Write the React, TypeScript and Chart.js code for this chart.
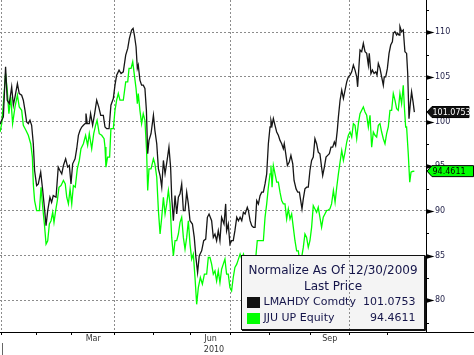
import React, { useEffect, useRef } from "react";
import { Chart, registerables } from "chart.js";

Chart.register(...registerables);

// x = trading-session index (0 = first session of Jan 2010)
const lmahdySessions = [
  -0.9, 0.0, 0.9, 2.1, 3.0, 4.1, 5.4, 6.3, 7.2, 8.5,
  9.5, 10.8, 11.7, 12.6, 13.5, 14.4, 15.3, 16.2, 17.1, 17.8,
  18.9, 19.8, 21.1, 22.2, 23.1, 24.0, 24.9, 26.1, 27.0, 27.9,
  29.4, 30.6, 31.5, 32.5, 33.4, 34.6, 35.7, 36.6, 37.5, 38.4,
  39.7, 40.6, 41.5, 42.4, 43.3, 44.2, 45.1, 45.6, 46.3, 47.4,
  48.1, 49.2, 50.3, 51.4, 52.5, 53.6, 55.0,
  55.9, 56.8, 58.1, 59.1, 60.4, 61.3, 62.2, 63.5, 64.6, 65.8,
  67.1, 68.2, 69.1, 70.3, 71.1, 71.8, 72.7, 73.4, 73.9, 74.8,
  75.7, 76.6, 77.5, 78.3, 79.0, 79.7, 80.8, 82.1, 82.9, 83.9,
  84.8, 85.7, 86.6, 87.5, 88.4, 89.5, 90.5, 91.4, 92.0, 92.9,
  93.8, 94.7, 95.6, 96.5, 97.4, 98.3, 99.2, 100.1, 101.0, 101.9,
  103.2, 104.2, 105.1, 106.0, 106.9, 108.2, 109.3, 110.4, 111.3, 112.2,
  113.6, 114.5, 115.4, 116.3, 117.2, 118.1, 119.0, 120.3, 121.2, 121.7,
  122.6, 123.5, 124.4, 125.3, 126.2, 127.2, 128.1, 129.0, 129.9, 130.8,
  131.7, 132.9, 133.5, 134.4, 135.3, 136.2, 137.1, 138.0, 138.9, 139.8,
  140.7, 141.6, 142.5, 143.4, 144.3, 145.2, 145.7, 146.3, 147.0, 147.9,
  148.8, 149.7, 150.6, 151.5, 152.4, 152.9, 153.7, 154.6, 155.6, 156.5,
  157.5, 158.2, 159.3, 160.2, 161.1, 161.8, 162.5, 163.2, 164.1, 165.0,
  165.9, 166.8, 167.7, 168.6,
  169.5, 170.4, 171.3, 172.2, 173.1, 173.7, 174.6, 175.5, 176.4, 177.3,
  178.2, 179.1, 180.0, 180.7, 181.6, 182.2, 183.1, 184.0, 184.9, 185.8,
  186.7, 187.6, 188.5, 189.4, 190.3, 191.2, 192.1, 192.6, 193.3, 193.9,
  194.8, 195.7, 196.6, 197.5, 198.4, 198.9, 199.8, 200.6, 201.5, 202.4,
  203.1, 203.8, 204.7, 205.6, 206.5, 207.0, 207.8, 208.7, 209.6, 210.5,
  211.4, 211.9, 212.8, 213.7, 214.3, 215.0, 215.5, 216.4, 217.3, 218.2,
  219.1, 219.7, 220.4, 221.1, 221.8, 222.6, 223.3,
];
const lmahdyValues = [
  99.7, 100.15, 100.53, 106.14, 102.4, 102.02, 103.9, 101.84, 102.77, 104.27,
  103.15, 102.96, 102.4, 101.27, 99.96, 99.78, 100.15, 99.59, 97.53, 94.53,
  92.85, 93.03, 94.35, 92.29, 90.41, 88.35, 90.04, 91.54, 90.97, 91.72,
  91.54, 94.91, 94.53, 94.16, 95.09, 95.84, 94.91, 95.09, 93.03, 95.28,
  95.84, 96.97, 98.47, 99.03, 99.4, 99.59, 99.78, 100.9, 99.78, 99.78,
  100.9, 99.59, 100.9, 102.4, 101.65, 100.71, 100.71,
  99.4, 99.21, 99.21, 101.84, 102.59, 104.08, 105.21, 105.77, 105.39, 105.58,
  107.45, 108.2, 109.33, 110.26, 110.45, 109.7, 108.39, 105.96, 106.33, 104.65,
  104.08, 104.08, 103.71, 101.27, 96.41, 97.9, 98.65, 100.71, 99.03, 97.53,
  94.72, 93.97, 92.66, 95.66, 94.16, 95.66, 97.15, 94.91, 91.54, 88.91,
  91.72, 89.66, 91.54, 91.91, 93.03, 90.04, 90.04, 92.1, 90.79, 88.91,
  88.54, 87.04, 84.79, 83.11, 84.98, 85.54, 86.67, 86.85, 89.29, 89.66,
  88.91, 87.04, 87.42, 86.67, 87.79, 86.67, 89.29, 88.54, 90.79, 87.79,
  88.54, 86.29, 86.67, 86.67, 87.79, 89.29, 88.91, 89.29, 88.91, 89.85,
  89.66, 90.41, 90.04, 88.91, 88.35, 88.17, 88.17, 91.16, 90.79, 91.72,
  92.1, 92.1, 93.03, 94.16, 97.53, 99.4, 100.15, 99.59, 100.34, 99.59,
  98.84, 98.47, 97.9, 97.53, 96.97, 97.53, 96.41, 95.09, 95.47, 96.22,
  95.28, 93.41, 92.47, 92.1, 92.1, 91.16, 90.23, 91.35, 92.47, 92.66,
  92.66, 94.53, 95.66, 96.03,
  98.09, 97.53, 96.59, 96.41, 94.91, 93.97, 94.91, 96.03, 96.22, 96.41,
  97.15, 97.15, 97.72, 97.34, 99.03, 100.53, 102.4, 103.52, 102.59, 103.52,
  104.46, 105.02, 105.21, 105.58, 106.33, 105.77, 105.02, 103.9, 106.14, 108.02,
  107.83, 108.76, 107.83, 107.64, 106.33, 107.64, 105.39, 105.77, 105.39, 105.58,
  105.21, 106.52, 105.96, 105.02, 104.08, 105.02, 105.02, 105.96, 107.64, 108.58,
  108.95, 109.89, 110.08, 109.7, 109.89, 109.7, 110.64, 110.08, 110.26, 107.83,
  107.64, 105.39, 100.34, 102.02, 103.33, 102.21, 101.0753,
];

const jjuSessions = [
  -0.9, 0.0, 0.9, 2.1, 3.0, 3.9, 4.9, 5.9, 7.2, 8.5,
  9.5, 10.8, 11.7, 13.1, 14.4, 15.7, 16.6, 17.1, 17.8, 18.9,
  20.4, 21.3, 22.2, 23.1, 24.0, 24.9, 25.8, 26.7, 27.6, 28.3,
  29.2, 30.1, 31.0, 32.1, 33.4, 34.4, 35.2, 36.1, 37.0, 37.9,
  38.8, 39.8, 40.9, 42.0, 42.9, 44.2, 45.4, 46.5, 47.4, 48.7,
  49.8, 50.8, 51.6, 52.8, 54.1, 55.4,
  55.9, 56.4, 57.3, 58.4, 59.1, 60.4, 61.3, 62.2, 63.1, 64.0,
  65.8, 67.1, 68.2, 68.9, 70.0, 70.9, 71.8, 72.7, 73.4, 73.9,
  74.8, 75.7, 76.6, 77.5, 78.4, 79.0, 79.7, 80.8, 82.1, 82.9,
  83.9, 84.8, 85.7, 86.6, 87.5, 88.4, 89.3, 90.2, 91.1, 92.0,
  92.9, 93.8, 94.7, 95.6, 96.5, 97.4, 98.3, 99.2, 100.1, 101.0,
  101.9, 102.8, 103.7, 104.6, 105.5, 106.4, 107.5, 108.6, 109.7, 110.9,
  111.8,
  112.7, 113.6, 114.5, 115.4, 116.3, 117.2, 118.1, 119.0, 119.9, 120.8,
  121.7, 122.6, 123.5, 124.4, 125.3, 126.2, 127.2, 128.1, 129.0, 129.9,
  130.8, 131.7, 132.6, 133.5, 134.4, 135.3, 136.2, 137.4, 138.3, 139.8,
  141.6, 142.5, 143.4, 144.3, 145.2, 145.7, 146.3, 147.0, 147.9, 148.8,
  149.7, 150.6, 151.5, 152.4, 153.3, 154.2, 155.1, 156.0, 156.9, 157.8,
  158.7, 159.6, 160.5, 161.4, 162.3, 163.2, 164.1, 165.0, 165.9, 166.8,
  167.7, 168.6,
  169.5, 170.4, 171.3, 172.2, 173.1, 174.0, 174.9, 175.8, 176.7, 177.6,
  178.5, 179.5, 180.4, 181.3, 182.2, 183.1, 184.0, 184.9, 185.8, 186.7,
  187.6, 188.5, 189.4, 190.3, 191.2, 192.1, 193.0, 193.9, 194.8, 195.7,
  196.6, 197.5, 198.4, 199.3, 200.2, 201.1, 202.0, 202.9, 203.8, 204.7,
  205.6, 206.5, 207.4, 208.3, 209.2, 210.1, 211.0, 211.9, 212.8, 213.7,
  214.6, 215.5, 216.4, 217.3, 217.9, 218.6, 219.1, 220.0, 220.8, 221.5,
  222.2, 223.3,
];
const jjuValues = [
  98.84, 99.78, 102.02, 105.39, 103.52, 100.9, 102.77, 99.78, 101.65, 102.96,
  101.65, 101.27, 99.59, 99.03, 98.47, 97.53, 96.03, 93.03, 91.16, 90.04,
  90.04, 92.66, 90.41, 88.54, 86.29, 86.67, 88.54, 88.91, 89.85, 88.73,
  90.04, 91.16, 92.66, 92.85, 93.41, 93.03, 91.54, 90.79, 92.47, 90.79,
  92.85, 92.66, 94.72, 95.66, 96.97, 97.53, 98.47, 97.34, 98.65, 96.97,
  98.65, 99.59, 100.15, 98.65, 98.47, 98.09,
  97.15, 94.91, 96.03, 96.03, 99.21, 99.21, 101.27, 102.4, 103.15, 102.4,
  102.4, 104.46, 104.46, 105.96, 105.96, 106.7, 105.21, 103.71, 102.02, 103.15,
  101.27, 99.78, 100.9, 100.15, 96.78, 92.29, 94.72, 94.72, 95.84, 95.28,
  93.78, 90.04, 87.42, 89.29, 91.54, 89.66, 90.79, 92.29, 90.79, 87.04,
  84.98, 86.67, 86.67, 87.42, 88.73, 89.29, 87.04, 85.73, 87.04, 88.91,
  86.29, 84.61, 85.17, 82.55, 79.55, 81.42, 82.55, 81.8, 82.92, 82.92,
  84.79,
  84.79, 84.05, 82.92, 83.3, 82.17, 83.3, 81.99, 83.48, 84.05, 84.61,
  82.92, 82.92, 81.42, 81.05, 82.55, 83.67, 84.05, 84.61, 85.17, 84.61,
  85.17, 84.61, 84.79, 84.05, 84.79, 84.42, 84.23, 84.61, 86.67, 86.67,
  86.67, 89.29, 90.79, 92.66, 94.16, 95.09, 92.66, 95.09, 94.16, 93.22,
  93.22, 92.1, 91.16, 90.79, 90.79, 89.1, 90.23, 89.1, 89.66, 88.17,
  86.67, 85.54, 85.54, 84.23, 84.79, 85.92, 87.42, 87.04, 85.92, 86.67,
  88.17, 90.6,
  90.23, 89.85, 90.41, 89.29, 88.17, 89.29, 89.66, 90.04, 90.11, 90.23,
  90.79, 92.29, 90.97, 92.66, 94.16, 95.47, 96.78, 95.66, 96.59, 97.72,
  98.47, 98.84, 98.28, 99.78, 99.59, 98.09, 99.78, 100.9, 101.27, 101.65,
  101.09, 100.71, 99.4, 100.71, 97.15, 98.84, 98.47, 98.28, 99.59, 99.78,
  98.84, 98.09, 97.53, 98.65, 99.4, 101.27, 101.27, 103.15, 102.4, 101.46,
  101.27, 103.15, 102.02, 104.08, 101.65, 99.4, 99.4, 96.41, 93.22, 94.35,
  94.42, 94.4611,
];

const seriesNames = ["LMAHDY Comdty", "JJU UP Equity"];
const lastValues = [101.0753, 94.4611];
const legendTitle = "Normalize As Of 12/30/2009";
const legendSubtitle = "Last Price";
const monthNames = ["Jan", "Feb", "Mar", "Apr", "May", "Jun", "Jul", "Aug", "Sep", "Oct", "Nov"];
const monthStartSessions = [0, 19, 38, 61, 82, 102, 124, 145, 167, 188, 209];
const quarterStartSessions = [0, 61, 124, 188];
const yearLabel = "2010";

const FONT = "'DejaVu Sans', Verdana, sans-serif";
const GRID = "#8c8c8c";
const isMajor = (v: number) => Math.abs(v / 5 - Math.round(v / 5)) < 1e-6;

const decor = {
  id: "decor",
  afterDraw(chart: any) {
    const { ctx, chartArea: ca, scales } = chart;
    const x = scales.x;
    const y = scales.y;
    ctx.save();

    // full-width bottom axis line
    ctx.strokeStyle = "#000";
    ctx.lineWidth = 1;
    ctx.setLineDash([]);
    ctx.beginPath();
    ctx.moveTo(0, Math.round(ca.bottom) + 0.5);
    ctx.lineTo(chart.width, Math.round(ca.bottom) + 0.5);
    ctx.stroke();

    // y-axis arrow ticks
    ctx.fillStyle = "#000";
    y.ticks.forEach((t: any) => {
      const py = Math.round(y.getPixelForValue(t.value)) + 0.5;
      if (isMajor(t.value)) {
        ctx.beginPath();
        ctx.moveTo(ca.right, py - 2.5);
        ctx.lineTo(ca.right + 8.5, py);
        ctx.lineTo(ca.right, py + 2.5);
        ctx.closePath();
        ctx.fill();
      } else {
        ctx.beginPath();
        ctx.moveTo(ca.right, py);
        ctx.lineTo(ca.right + 3, py);
        ctx.stroke();
      }
    });

    // month labels (every quarter's middle month)
    ctx.font = `8px ${FONT}`;
    ctx.fillStyle = "#333";
    ctx.textAlign = "center";
    ctx.textBaseline = "middle";
    monthNames.forEach((m, i) => {
      if (i % 3 === 2 && i + 1 < monthStartSessions.length) {
        const cx = x.getPixelForValue((monthStartSessions[i] + monthStartSessions[i + 1]) / 2);
        ctx.fillText(m, cx, ca.bottom + 6.5);
      }
    });
    ctx.fillText(yearLabel, (ca.left + ca.right) / 2 + 1, ca.bottom + 17.5);

    // year separator
    const jx = Math.round(x.getPixelForValue(monthStartSessions[0])) + 0.5;
    ctx.strokeStyle = "#666";
    ctx.beginPath();
    ctx.moveTo(jx, ca.bottom + 11);
    ctx.lineTo(jx, chart.height);
    ctx.stroke();

    // last value tags
    const tag = (value: number, text: string, bg: string, fg: string, right: number) => {
      const py = y.getPixelForValue(value);
      const h = 11;
      const tip = ca.right + 1;
      const body = tip + 5;
      ctx.beginPath();
      ctx.moveTo(tip, py);
      ctx.lineTo(body, py - h / 2);
      ctx.lineTo(right, py - h / 2);
      ctx.lineTo(right, py + h / 2);
      ctx.lineTo(body, py + h / 2);
      ctx.closePath();
      ctx.fillStyle = bg;
      ctx.fill();
      ctx.strokeStyle = "#000";
      ctx.lineWidth = 1;
      ctx.stroke();
      ctx.fillStyle = fg;
      ctx.font = `8px ${FONT}`;
      ctx.textAlign = "left";
      ctx.textBaseline = "middle";
      ctx.fillText(text, body + 0.5, py + 0.5);
    };
    tag(lastValues[0], lastValues[0].toFixed(4), "#111", "#fff", ca.right + 43);
    tag(lastValues[1], lastValues[1].toFixed(4), "#00ff00", "#000", chart.width - 0.5);

    // legend box
    const bw = 184;
    const bh = 75;
    const bl = Math.round(ca.right) - bw - 1;
    const bt = Math.round(ca.bottom) - bh - 2;
    ctx.fillStyle = "#f4f4f4";
    ctx.fillRect(bl, bt, bw, bh);
    ctx.strokeStyle = "#111";
    ctx.lineWidth = 1;
    ctx.strokeRect(bl + 0.5, bt + 0.5, bw - 1, bh - 1);
    ctx.beginPath();
    ctx.moveTo(bl + bw + 0.5, bt + 1);
    ctx.lineTo(bl + bw + 0.5, bt + bh + 0.5);
    ctx.lineTo(bl + 1, bt + bh + 0.5);
    ctx.stroke();

    // vertical gridline showing through legend
    const gx = Math.round(x.getPixelForValue(quarterStartSessions[3])) + 0.5;
    ctx.strokeStyle = GRID;
    ctx.setLineDash([2, 2]);
    ctx.beginPath();
    ctx.moveTo(gx, bt + 1);
    ctx.lineTo(gx, bt + bh - 1);
    ctx.stroke();
    ctx.setLineDash([]);

    ctx.fillStyle = "#15154a";
    ctx.font = `12px ${FONT}`;
    ctx.textAlign = "center";
    ctx.textBaseline = "middle";
    ctx.fillText(legendTitle, bl + bw / 2, bt + 16);
    ctx.fillText(legendSubtitle, bl + bw / 2, bt + 31.5);
    const colors = ["#111", "#00ff00"];
    ctx.font = `11px ${FONT}`;
    seriesNames.forEach((name, i) => {
      const ry = bt + 47.5 + i * 16;
      ctx.fillStyle = colors[i];
      ctx.fillRect(bl + 6, ry - 5.5, 13, 11);
      ctx.fillStyle = "#15154a";
      ctx.textAlign = "left";
      ctx.fillText(name, bl + 22.5, ry);
      ctx.textAlign = "right";
      ctx.fillText(lastValues[i].toFixed(4), bl + bw - 9.5, ry);
    });

    ctx.restore();
  },
};

export default function App() {
  const ref = useRef<HTMLCanvasElement | null>(null);
  useEffect(() => {
    if (!ref.current) return;
    const chart = new Chart(ref.current, {
      type: "line",
      data: {
        datasets: [
          {
            label: seriesNames[0],
            data: lmahdySessions.map((s, i) => ({ x: s, y: lmahdyValues[i] })),
            borderColor: "#161616",
            borderWidth: 1.3,
            pointRadius: 0,
            tension: 0,
          },
          {
            label: seriesNames[1],
            data: jjuSessions.map((s, i) => ({ x: s, y: jjuValues[i] })),
            borderColor: "#00ff00",
            borderWidth: 1.3,
            pointRadius: 0,
            tension: 0,
          },
        ],
      },
      options: {
        animation: false,
        responsive: false,
        devicePixelRatio: 1,
        layout: { padding: 0 },
        plugins: {
          legend: { display: false },
          tooltip: { enabled: false },
          title: { display: false },
        },
        scales: {
          x: {
            type: "linear",
            position: "bottom",
            min: -0.92,
            max: 229.6,
            afterBuildTicks: (s: any) => {
              s.ticks = monthStartSessions.map((v) => ({ value: v }));
            },
            afterFit: (s: any) => {
              s.height = 23;
              s.paddingLeft = 0;
              s.paddingRight = 0;
            },
            ticks: { display: false },
            grid: {
              color: (c: any) =>
                c.tick && quarterStartSessions.includes(c.tick.value) ? GRID : "rgba(0,0,0,0)",
              lineWidth: 1,
              drawTicks: true,
              tickLength: 3,
              tickColor: "#000",
              tickWidth: 1,
            },
            border: { display: false, dash: [2, 2] },
          },
          y: {
            type: "linear",
            position: "right",
            min: 76.45,
            max: 113.62,
            afterFit: (s: any) => {
              s.width = 48;
              s.paddingTop = 0;
              s.paddingBottom = 0;
            },
            ticks: {
              stepSize: 2.5,
              includeBounds: false,
              autoSkip: false,
              padding: 9,
              color: "#1e1e46",
              font: { family: FONT, size: 8 },
              callback: (v: any) => (isMajor(Number(v)) ? String(Math.round(Number(v))) : ""),
            },
            grid: {
              color: (c: any) => (c.tick && isMajor(c.tick.value) ? GRID : "rgba(0,0,0,0)"),
              drawTicks: false,
              lineWidth: 1,
            },
            border: { display: true, color: "#000", width: 1, dash: [2, 2] },
          },
        },
      },
      plugins: [decor],
    } as any);
    return () => chart.destroy();
  }, []);

  return (
    <div style={{ position: "fixed", left: 0, top: 0, width: 474, height: 355, background: "#fff" }}>
      <canvas ref={ref} width={474} height={355} style={{ display: "block" }} />
    </div>
  );
}
